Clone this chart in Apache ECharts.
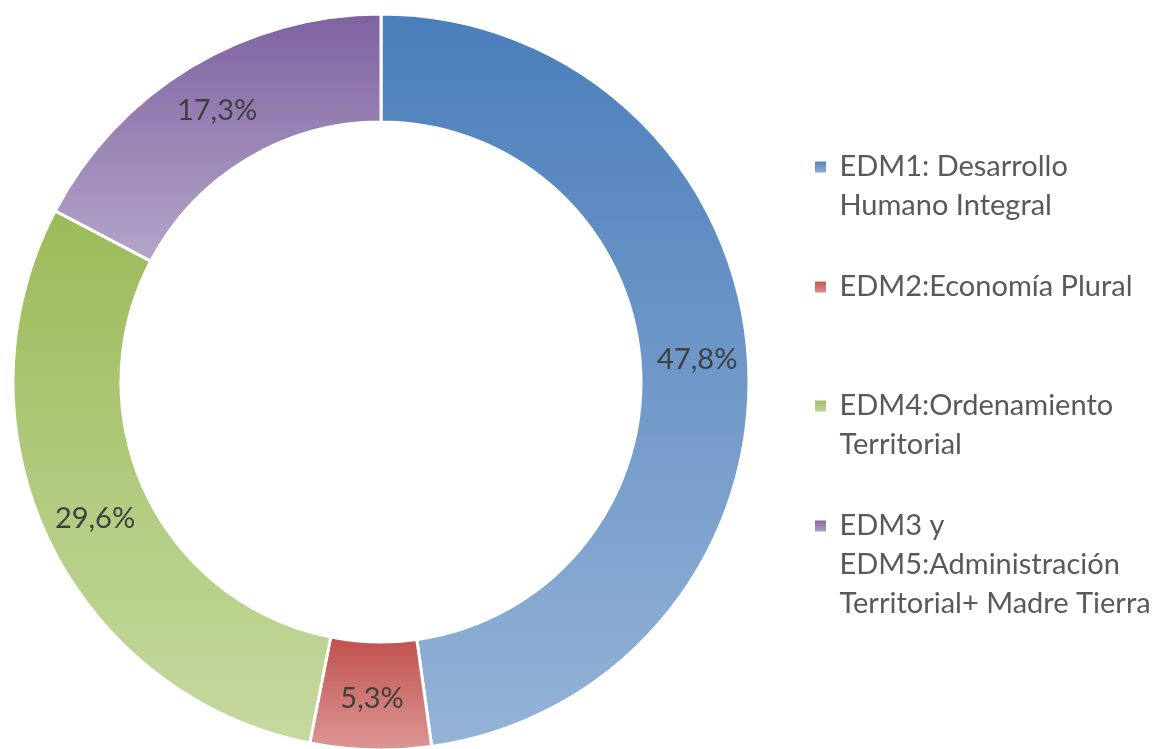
<!DOCTYPE html>
<html>
<head>
<meta charset="utf-8">
<script src="https://cdn.jsdelivr.net/npm/echarts@6/dist/echarts.min.js"></script>
<style>
  html, body { margin: 0; padding: 0; background: #fff; }
  #chart-wrapper { width: 1161px; height: 749px; }
</style>
</head>
<body>
<div id="chart-wrapper"></div>
<script>
const names = [
  'EDM1: Desarrollo\nHumano Integral',
  'EDM2:Economía Plural',
  'EDM4:Ordenamiento\nTerritorial',
  'EDM3 y\nEDM5:Administración\nTerritorial+ Madre Tierra'
]
const values = [47.8, 5.3, 29.6, 17.3]
const topColors = ['#4a7ebb', '#c0504d', '#9bbb59', '#7f62a1']
const bottomColors = ['#95b3d7', '#dc9896', '#c6d9a0', '#b4a5c9']
const legendCenters = [167, 287, 406, 526]

const fontFamily = 'Lato, "Open Sans", sans-serif'
const lineH = 39

const gradient = i => new echarts.graphic.LinearGradient(0, 0, 0, 1, [
  { offset: 0, color: topColors[i] },
  { offset: 1, color: bottomColors[i] }
])

// one legend per item; blank lines on top keep the marker on the first text line
const legends = names.map((name, i) => {
  const lines = name.split('\n').length
  const h = (2 * lines - 1) * lineH
  return {
    data: [name],
    orient: 'vertical',
    left: 813,
    top: legendCenters[i] - h / 2,
    padding: 0,
    itemWidth: 13,
    itemHeight: 13,
    icon: 'rect',
    selectedMode: false,
    formatter: n => '\n'.repeat(lines - 1) + n.split('\n').map(l => ' ' + l).join('\n'),
    textStyle: {
      fontFamily,
      fontSize: 29,
      lineHeight: lineH,
      color: '#595959'
    }
  }
})

const chart = echarts.init(document.getElementById('chart-wrapper'))
chart.setOption({
  backgroundColor: '#ffffff',
  animation: false,
  legend: legends,
  series: [
    {
      type: 'pie',
      center: [381, 382],
      radius: [260, 368],
      startAngle: 90,
      clockwise: true,
      avoidLabelOverlap: false,
      itemStyle: {
        borderColor: '#ffffff',
        borderWidth: 3
      },
      label: {
        position: 'inside',
        fontFamily,
        fontSize: 29,
        color: '#404040',
        formatter: p => p.value.toFixed(1).replace('.', ',') + '%'
      },
      labelLine: { show: false },
      emphasis: { disabled: true },
      data: names.map((name, i) => ({
        name,
        value: values[i],
        itemStyle: { color: gradient(i) }
      }))
    }
  ]
})
</script>
</body>
</html>
